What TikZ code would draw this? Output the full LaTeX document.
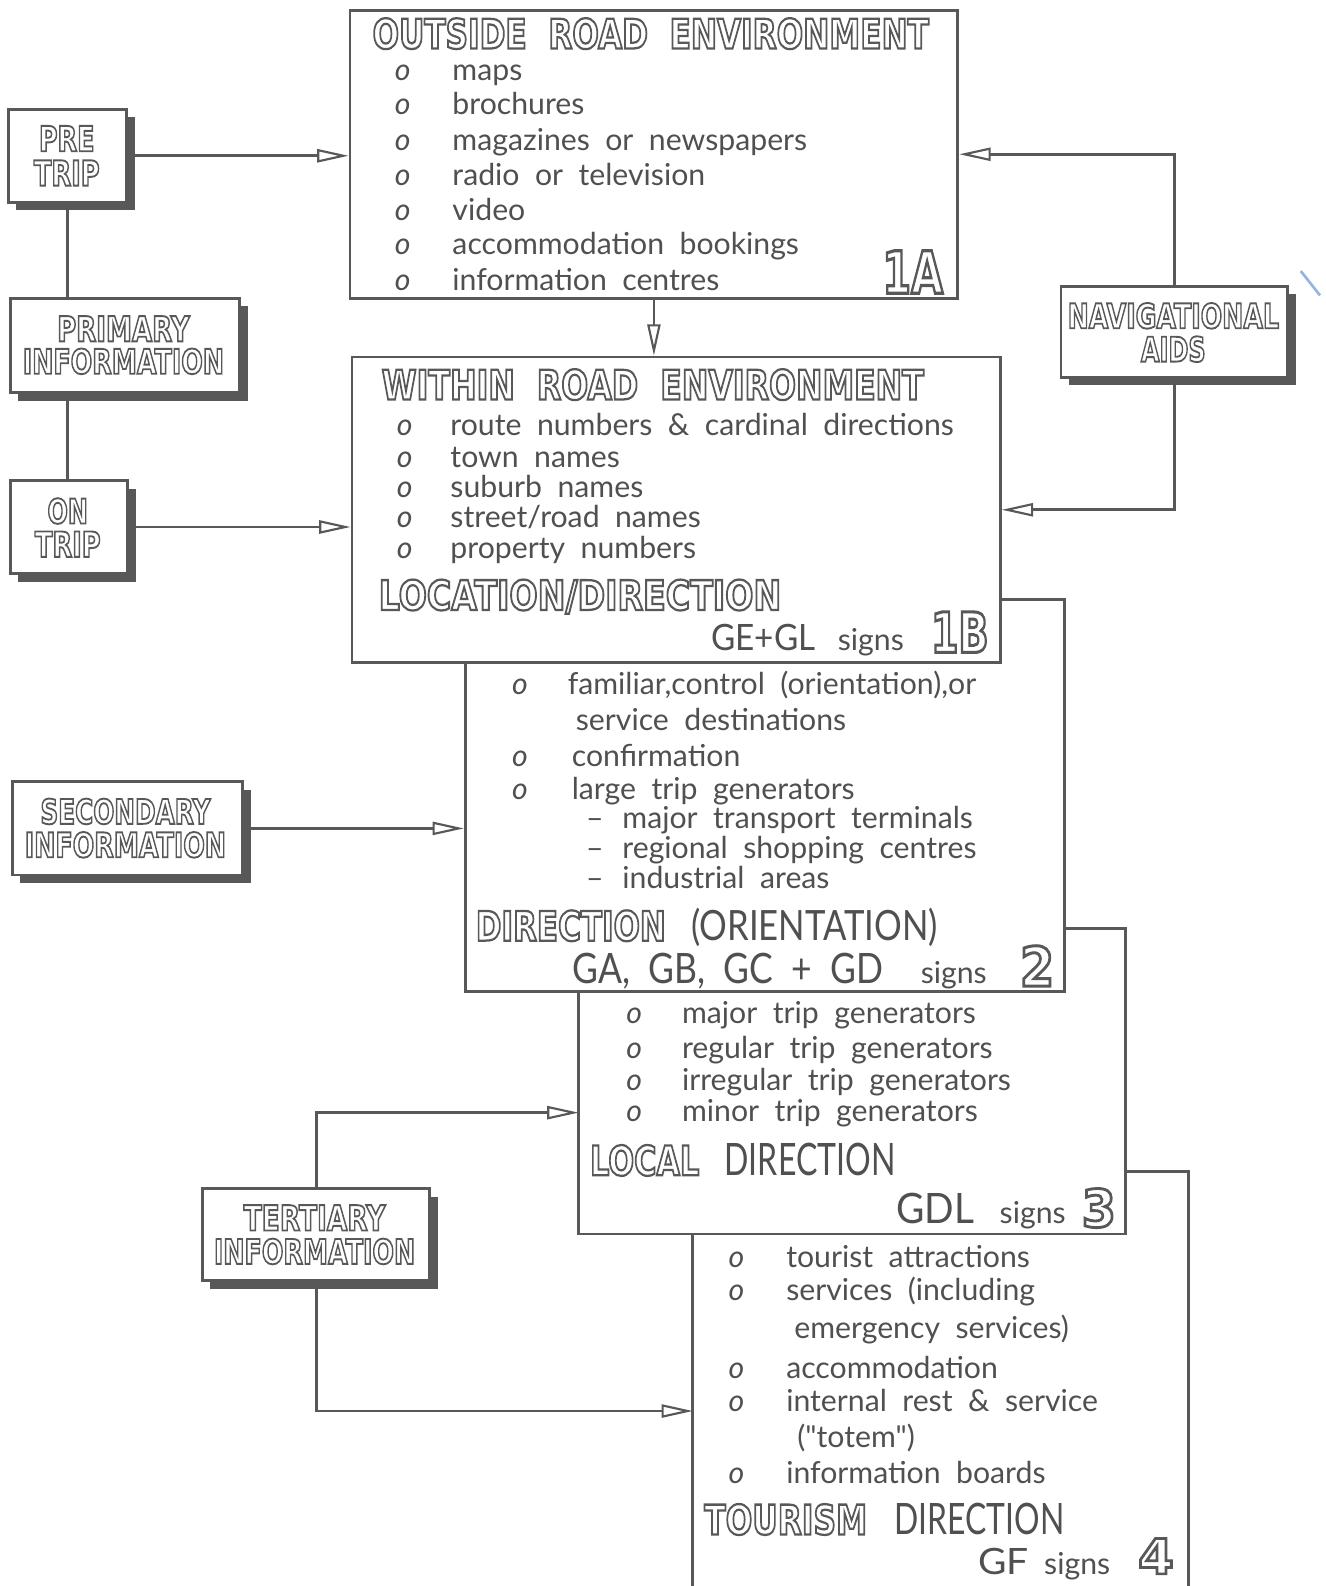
\documentclass[tikz,border=0pt]{standalone}
\usepackage{fontspec}
\setmainfont{Lato}
\newfontfamily\plainfont{Lato}
\newfontfamily\hdfont{DejaVu Sans}
\usepackage{graphicx}
\usetikzlibrary{arrows.meta,fit,shadows,calc}
\definecolor{ink}{RGB}{88,88,88}
\definecolor{txt}{RGB}{80,80,80}
\definecolor{scan}{RGB}{150,180,225}
\newlength\pxu \setlength\pxu{0.02cm}
\newcommand\ol[3]{{\color{ink}\resizebox{#1\pxu}{#2\pxu}{\special{pdf:literal direct 1 Tr 0.55 w}\hdfont\bfseries #3\special{pdf:literal direct 0 Tr}}}}
\newcommand\ft[3]{\resizebox{#1\pxu}{#2\pxu}{#3}}
\tikzset{
  box/.style={draw=ink, line width=1.6pt, fill=white, inner sep=0pt},
  sbox/.style={box, drop shadow={shadow xshift=0.16cm, shadow yshift=-0.16cm, fill=ink, opacity=1}},
  conn/.style={draw=ink, line width=1.6pt},
  arr/.style={conn, -{Triangle[open, length=0.62cm, width=0.26cm, line width=1.2pt]}},
  tx/.style={anchor=base west, inner sep=0pt, text=txt, font=\fontsize{17}{20}\selectfont},
  bul/.style={anchor=base west, inner sep=0pt, text=txt, font=\fontsize{17}{20}\selectfont\itshape},
  hd/.style={anchor=base west, inner sep=0pt},
  hdc/.style={anchor=base, inner sep=0pt},
}
\begin{document}
\begin{tikzpicture}[x=0.02cm, y=-0.02cm]
\useasboundingbox (0,0) rectangle (1310,1568);
\clip (0,0) rectangle (1310,1568);

% ---------- main boxes (lowest first) ----------
\node[box, fit={(685,1158) (1175,1620)}] (b4) {};
\node[box, fit={(572,918) (1113,1220)}] (b3) {};
\node[box, fit={(460,593) (1052,980)}] (b2) {};
\node[box, fit={(348,353) (989,655)}] (b1B) {};
\node[box, fit={(346,10) (947,295)}] (b1A) {};

% ---------- side boxes ----------
\node[sbox, fit={(8,108) (125,200)}] (pre) {};
\node[sbox, fit={(10,295) (237,388)}] (prim) {};
\node[sbox, fit={(10,475) (126,567)}] (on) {};
\node[sbox, fit={(1049,283) (1273,373)}] (nav) {};
\node[sbox, fit={(12,773) (240,865)}] (sec) {};
\node[sbox, fit={(200,1175) (425,1266)}] (ter) {};

\node[hdc] (preA) at (66,149.5) {\ol{55}{25}{PRE}};
\node[hdc] (preB) at (66,183.5) {\ol{65}{25}{TRIP}};
\node[hdc] (primA) at (122,337.5) {\ol{131}{25}{PRIMARY}};
\node[hdc] (primB) at (122,369.5) {\ol{199}{25}{INFORMATION}};
\node[hdc] (onA) at (67,517.5) {\ol{40}{25}{ON}};
\node[hdc] (onB) at (67,550.5) {\ol{65}{25}{TRIP}};
\node[hdc] (navA) at (1160,324.5) {\ol{209}{25}{NAVIGATIONAL}};
\node[hdc] (navB) at (1160,357.5) {\ol{64}{25}{AIDS}};
\node[hdc] (secA) at (124,814.5) {\ol{168}{25}{SECONDARY}};
\node[hdc] (secB) at (124,847.5) {\ol{199}{25}{INFORMATION}};
\node[hdc] (terA) at (311,1216.5) {\ol{140}{25}{TERTIARY}};
\node[hdc] (terB) at (311,1249.5) {\ol{199}{25}{INFORMATION}};

% ---------- connectors ----------
\draw[conn] (pre.south) -- (pre.south |- prim.north);
\draw[conn] (prim.south -| pre.south) -- (on.north -| pre.south);
\draw[arr] (pre.east) -- (pre.east -| b1A.west);
\draw[arr] (on.east) -- (on.east -| b1B.west);
\draw[arr] (sec.east) -- (sec.east -| b2.west);
\draw[arr] (nav.north) |- (b1A.east);
\draw[arr] (nav.south) |- (b1B.east);
\draw[arr] (b1A.south) -- (b1A.south |- b1B.north);
\coordinate (t3) at (572,1100);
\coordinate (t4) at (685,1395);
\draw[arr] (ter.north) |- (t3);
\draw[arr] (ter.south) |- (t4);

% ---------- box 1A ----------
\node[hd] (h1A) at (368,48) {\ol{550}{30}{OUTSIDE\ \ ROAD\ \ ENVIRONMENT}};
\foreach \yy/\tt [count=\i] in {80/{maps}, 113/{brochures}, 149/{magazines\ \ or\ \ newspapers}, 183/{radio\ \ or\ \ television}, 218/{video}, 252/{accommodation\ \ bookings}, 287/{information\ \ centres}}{
  \node[bul] (a1o\i) at (390,\yy) {o};
  \node[tx] (a1t\i) at (447,\yy) {\tt};
}
\node[hd] (n1A) at (872,290) {\ol{60}{42}{1A}};

% ---------- box 1B ----------
\node[hd] (h1B) at (377,395) {\ol{536}{30}{WITHIN\ \ ROAD\ \ ENVIRONMENT}};
\foreach \yy/\tt [count=\i] in {431/{route\ \ numbers\ \ \&\ \ cardinal\ \ directions}, 462/{town\ \ names}, 492/{suburb\ \ names}, 522/{street/road\ \ names}, 552/{property\ \ numbers}}{
  \node[bul] (b1o\i) at (392,\yy) {o};
  \node[tx] (b1t\i) at (445,\yy) {\tt};
}
\node[hd] (l1B) at (374,603) {\ol{398}{30}{LOCATION/DIRECTION}};
\node[hd] (g1B) at (703,643) {\color{txt}\ft{103}{26}{GE+GL}};
\node[tx] (s1B) at (828,643) {signs};
\node[hd] (n1B) at (920,645) {\ol{57}{40}{1B}};

% ---------- box 2 ----------
\node[bul] (c2o1) at (506,687) {o};
\node[tx] (c2t1) at (561,687) {familiar,control\ \ (orientation),or};
\node[tx] (c2t2) at (569,722) {service\ \ destinations};
\node[bul] (c2o3) at (506,758) {o};
\node[tx] (c2t3) at (565,758) {confirmation};
\node[bul] (c2o4) at (506,790) {o};
\node[tx] (c2t4) at (565,790) {large\ \ trip\ \ generators};
\foreach \yy/\tt [count=\i] in {819/{major\ \ transport\ \ terminals}, 849/{regional\ \ shopping\ \ centres}, 878/{industrial\ \ areas}}{
  \node[tx] (c2d\i) at (579,\yy) {--};
  \node[tx] (c2s\i) at (615,\yy) {\tt};
}
\node[hd] (l2) at (470,930) {\ol{188}{30}{DIRECTION}};
\node[hd] (o2) at (683,930) {\color{txt}\ft{244}{32}{(ORIENTATION)}};
\node[hd] (g2) at (566,972) {\color{txt}\ft{307}{30}{GA,\ \ GB,\ \ GC\ \ +\ \ GD}};
\node[tx] (s2) at (910,972) {signs};
\node[hd] (n2) at (1008,975) {\ol{34}{40}{2}};

% ---------- box 3 ----------
\foreach \yy/\tt [count=\i] in {1012/{major\ \ trip\ \ generators}, 1046/{regular\ \ trip\ \ generators}, 1078/{irregular\ \ trip\ \ generators}, 1109/{minor\ \ trip\ \ generators}}{
  \node[bul] (d3o\i) at (619,\yy) {o};
  \node[tx] (d3t\i) at (674,\yy) {\tt};
}
\node[hd] (l3) at (583,1162) {\ol{108}{30}{LOCAL}};
\node[hd] (dd3) at (716,1162) {\color{txt}\ft{169}{32}{DIRECTION}};
\node[hd] (g3) at (886,1210) {\color{txt}\ft{77}{30}{GDL}};
\node[tx] (s3) at (988,1210) {signs};
\node[hd] (n3) at (1069,1213) {\ol{34}{38}{3}};

% ---------- box 4 ----------
\node[bul] (e4o1) at (720,1253) {o};
\node[tx] (e4t1) at (777,1253) {tourist\ \ attractions};
\node[bul] (e4o2) at (720,1286) {o};
\node[tx] (e4t2) at (777,1286) {services\ \ (including};
\node[tx] (e4t3) at (785,1323) {emergency\ \ services)};
\node[bul] (e4o4) at (720,1363) {o};
\node[tx] (e4t4) at (777,1363) {accommodation};
\node[bul] (e4o5) at (720,1395) {o};
\node[tx] (e4t5) at (777,1395) {internal\ \ rest\ \ \&\ \ service};
\node[tx] (e4t6) at (788,1431) {\plainfont ("totem")};
\node[bul] (e4o7) at (720,1467) {o};
\node[tx] (e4t7) at (777,1467) {information\ \ boards};
\node[hd] (l4) at (696,1517) {\ol{161}{30}{TOURISM}};
\node[hd] (dd4) at (884,1517) {\color{txt}\ft{168}{31}{DIRECTION}};
\node[hd] (g4) at (967,1557) {\color{txt}\ft{50}{26}{GF}};
\node[tx] (s4) at (1032,1557) {signs};
\node[hd] (n4) at (1125,1556) {\ol{35}{35}{4}};

% scan mark at the right edge
\draw[scan, line width=1.5pt] (1286,268) -- (1305,292);
\end{tikzpicture}
\end{document}
